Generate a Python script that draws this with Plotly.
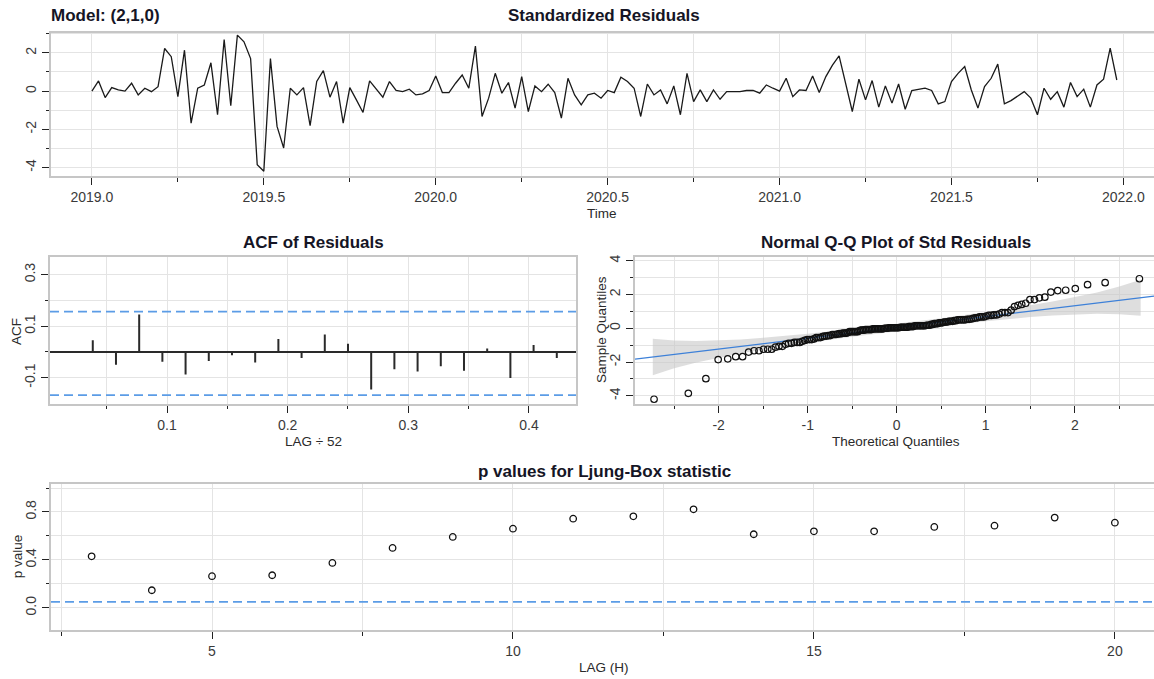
import plotly.graph_objects as go
from statistics import NormalDist

W, H = 1154, 679

# ---------------- data ----------------
model_label = "Model: (2,1,0)"
res_start = 2019.0
res_freq = 52
std_resid = [
    0.0, 0.53, -0.34, 0.18, 0.06, 0.0, 0.41, -0.2, 0.15, -0.03,
    0.23, 2.23, 1.8, -0.29, 2.14, -1.68, 0.15, 0.32, 1.48, -1.24,
    2.7, -0.77, 2.93, 2.58, 1.7, -3.85, -4.2, 1.7, -1.85, -2.98,
    0.15, -0.2, 0.18, -1.81, 0.5, 1.07, -0.32, 0.5, -1.68, 0.18,
    -0.46, -1.12, 0.53, 0.1, -0.32, 0.5, 0.03, -0.03, 0.1, -0.2,
    -0.15, 0.03, 0.79, -0.08, -0.08, 0.41, 0.84, 0.15, 2.35, -1.33,
    -0.37, 0.93, -0.11, 0.45, -0.89, 0.76, -1.07, 0.27, -0.03, 0.36,
    -0.08, -1.41, 0.67, -0.2, -0.72, -0.2, -0.11, -0.37, 0.03, -0.08,
    0.72, 0.5, 0.15, -1.33, 0.37, -0.2, 0.06, -0.67, 0.27, -1.24,
    0.93, -0.55, 0.06, -0.55, 0.06, -0.43, -0.03, -0.03, -0.03, 0.03,
    0.03, -0.11, 0.32, 0.15, 0.0, 0.67, -0.29, 0.06, 0.03, 0.79,
    -0.08, 0.76, 1.36, 1.84, 0.41, -1.07, 0.62, -0.46, 0.55, -0.84,
    0.27, -0.63, 0.37, -0.95, 0.03, 0.1, 0.15, 0.03, -0.67, -0.55,
    0.5, 0.93, 1.28, 0.06, -0.89, 0.23, 0.67, 1.41, -0.67, -0.5,
    -0.25, -0.03, -0.37, -1.24, 0.15, -0.43, -0.03, -0.84, 0.45, -0.29,
    0.1, -0.84, 0.32, 0.62, 2.25, 0.58,
]

acf_lags = list(range(1, 23))
acf_vals = [-0.004, 0.045, -0.05, 0.145, -0.038, -0.088, -0.035, -0.013, -0.041, 0.05,
            -0.024, 0.068, 0.032, -0.146, -0.067, -0.076, -0.056, -0.073, 0.013, -0.101,
            0.027, -0.024]
acf_upper = 0.157
acf_lower = -0.168

qq_slope = 0.64
qq_intercept = 0.05
qq_band_z = [-2.74, -2.5, -2.25, -2.0, -1.75, -1.5, -1.25, -1.0, -0.5, 0.0,
             0.5, 1.0, 1.25, 1.5, 1.75, 2.0, 2.25, 2.5, 2.74]
qq_band_half = [1.08, 0.82, 0.63, 0.5, 0.41, 0.35, 0.3, 0.27, 0.23, 0.22,
                0.23, 0.27, 0.3, 0.35, 0.41, 0.5, 0.63, 0.82, 1.06]

lb_lags = list(range(3, 21))
lb_pvals = [0.43, 0.147, 0.264, 0.272, 0.375, 0.50, 0.592, 0.661, 0.744, 0.764,
            0.822, 0.614, 0.639, 0.639, 0.675, 0.686, 0.753, 0.711]
lb_alpha = 0.05

# ---------------- styling helpers ----------------
FONT = "Liberation Sans, Arial, sans-serif"
GRID = "#e4e4e4"
BOX = "#c6c6c6"
TICKC = "#222222"
DASHC = "#5b9ce6"


def px(x):
    return x / W


def py(y):
    return 1 - y / H


def axis(domain, rng, major, labels, minor_vals, mirror=True, angle=None):
    d = dict(
        domain=domain, range=rng, showline=True, linecolor=BOX, linewidth=2,
        mirror=mirror, ticks="outside", tickcolor=TICKC, ticklen=7, tickwidth=1.3,
        tickmode="array", tickvals=major, ticktext=labels,
        showgrid=True, gridcolor=GRID, gridwidth=1, zeroline=False,
        tickfont=dict(family=FONT, size=14, color="#3a3a3a"),
        minor=dict(tickmode="array", tickvals=minor_vals, ticks="outside", ticklen=3.5,
                   tickcolor=TICKC, tickwidth=1.3, showgrid=True, gridcolor=GRID, gridwidth=1),
        fixedrange=True,
    )
    if angle is not None:
        d["tickangle"] = angle
    return d


def lab(v, fmt):
    return (fmt % v).replace("\u2212", "-")


fig = go.Figure()

# ---- top: standardized residuals ----
n = len(std_resid)
times = [res_start + i / res_freq for i in range(n)]
fig.add_trace(go.Scatter(x=times, y=std_resid, mode="lines",
                         line=dict(color="#1a1a1a", width=1.3),
                         xaxis="x", yaxis="y", showlegend=False, hoverinfo="skip"))

# ---- ACF ----
ax_, ay_ = [], []
for l, v in zip(acf_lags, acf_vals):
    ax_ += [l / res_freq, l / res_freq, None]
    ay_ += [0, v, None]
fig.add_trace(go.Scatter(x=ax_, y=ay_, mode="lines", line=dict(color="#2a2a2a", width=2),
                         xaxis="x2", yaxis="y2", showlegend=False, hoverinfo="skip"))

# ---- QQ ----
theo = [NormalDist().inv_cdf((i + 0.5) / n) for i in range(n)]
samp = sorted(std_resid)
band_up = [qq_intercept + qq_slope * z + h for z, h in zip(qq_band_z, qq_band_half)]
band_lo = [qq_intercept + qq_slope * z - h for z, h in zip(qq_band_z, qq_band_half)]
fig.add_trace(go.Scatter(x=qq_band_z + qq_band_z[::-1], y=band_up + band_lo[::-1],
                         fill="toself", fillcolor="rgba(200,200,200,0.6)", line=dict(width=0),
                         mode="lines", xaxis="x3", yaxis="y3", showlegend=False, hoverinfo="skip"))
qq_xr = [-2.94, 2.89]
fig.add_trace(go.Scatter(x=qq_xr, y=[qq_intercept + qq_slope * v for v in qq_xr], mode="lines",
                         line=dict(color="#3d80d8", width=1.3),
                         xaxis="x3", yaxis="y3", showlegend=False, hoverinfo="skip"))
fig.add_trace(go.Scatter(x=theo, y=samp, mode="markers",
                         marker=dict(symbol="circle-open", size=6.5, color="#111111",
                                     line=dict(width=1.2, color="#111111")),
                         xaxis="x3", yaxis="y3", showlegend=False, hoverinfo="skip"))

# ---- Ljung-Box ----
fig.add_trace(go.Scatter(x=lb_lags, y=lb_pvals, mode="markers",
                         marker=dict(symbol="circle-open", size=6.5, color="#111111",
                                     line=dict(width=1.3, color="#111111")),
                         xaxis="x4", yaxis="y4", showlegend=False, hoverinfo="skip"))

# dashed reference lines
dash = "9px,5px"
shapes = [
    dict(type="line", xref="x2 domain", yref="y2", x0=0, x1=1, y0=acf_upper, y1=acf_upper,
         line=dict(color=DASHC, width=1.8, dash=dash)),
    dict(type="line", xref="x2 domain", yref="y2", x0=0, x1=1, y0=acf_lower, y1=acf_lower,
         line=dict(color=DASHC, width=1.8, dash=dash)),
    dict(type="line", xref="x4 domain", yref="y4", x0=0, x1=1, y0=lb_alpha, y1=lb_alpha,
         line=dict(color=DASHC, width=1.8, dash=dash)),
]

# ---------------- axes ----------------
top_dom_y = [py(175), py(30.7)]
mid_dom_y = [py(403), py(255.7)]
bot_dom_y = [py(630), py(483)]

x1_major = [2019.0, 2019.5, 2020.0, 2020.5, 2021.0, 2021.5, 2022.0]
x1_minor = [2019.25, 2019.75, 2020.25, 2020.75, 2021.25, 2021.75]
y1_major = [-4, -2, 0, 2]
y1_minor = [-3, -1, 1, 3]

x2_major = [0.1, 0.2, 0.3, 0.4]
x2_minor = [0.05, 0.15, 0.25, 0.35]
y2_major = [-0.1, 0.1, 0.3]
y2_minor = [0.0, 0.2]

x3_major = [-2, -1, 0, 1, 2]
x3_minor = [-2.5, -1.5, -0.5, 0.5, 1.5, 2.5]
y3_major = [-4, -2, 0, 2, 4]
y3_minor = [-3, -1, 1, 3]

x4_major = [5, 10, 15, 20]
x4_minor = [2.5, 7.5, 12.5, 17.5]
y4_major = [0.0, 0.4, 0.8]
y4_minor = [0.2, 0.6, 1.0]

layout_axes = dict(
    xaxis=axis([px(51), 1], [2018.881, 2022.089], x1_major, [lab(v, "%.1f") for v in x1_major], x1_minor),
    yaxis=axis(top_dom_y, [-4.47, 3.06], y1_major, [lab(v, "%d") for v in y1_major], y1_minor,
               mirror=False, angle=-90),
    xaxis2=axis([px(50), px(576)], [0.003, 0.439], x2_major, [lab(v, "%.1f") for v in x2_major], x2_minor),
    yaxis2=axis(mid_dom_y, [-0.2015, 0.369], y2_major, [lab(v, "%.1f") for v in y2_major], y2_minor,
                angle=-90),
    xaxis3=axis([px(635), 1], qq_xr, x3_major, [lab(v, "%d") for v in x3_major], x3_minor),
    yaxis3=axis(mid_dom_y, [-4.47, 4.22], y3_major, [lab(v, "%d") for v in y3_major], y3_minor,
                mirror=False, angle=-90),
    xaxis4=axis([px(51), 1], [2.325, 20.65], x4_major, [lab(v, "%d") for v in x4_major], x4_minor),
    yaxis4=axis(bot_dom_y, [-0.186, 1.037], y4_major, [lab(v, "%.1f") for v in y4_major], y4_minor,
                mirror=False, angle=-90),
)
for k in ["xaxis", "xaxis2", "xaxis3", "xaxis4"]:
    layout_axes[k]["anchor"] = "y" + k[5:]
for k in ["yaxis", "yaxis2", "yaxis3", "yaxis4"]:
    layout_axes[k]["anchor"] = "x" + k[5:]
layout_axes["yaxis2"]["zeroline"] = True
layout_axes["yaxis2"]["zerolinecolor"] = "#2a2a2a"
layout_axes["yaxis2"]["zerolinewidth"] = 1.5

# ---------------- annotations ----------------
TITLE_FONT = dict(family=FONT, size=17, color="#151525")
AX_FONT = dict(family=FONT, size=13.5, color="#2a2a2a")


def ann(text, x, y, font, xanchor="center", angle=0, bold=False):
    return dict(text=("<b>%s</b>" % text) if bold else text, x=px(x), y=py(y),
                xref="paper", yref="paper", xanchor=xanchor, yanchor="middle",
                showarrow=False, font=font, textangle=angle)


annotations = [
    ann(model_label, 49, 14, TITLE_FONT, xanchor="left", bold=True),
    ann("Standardized Residuals", 604, 14, TITLE_FONT, bold=True),
    ann("Time", 602, 212, AX_FONT),
    ann("ACF of Residuals", 313, 241, TITLE_FONT, bold=True),
    ann("Normal Q-Q Plot of Std Residuals", 896, 241, TITLE_FONT, bold=True),
    ann("LAG \u00f7 52", 313, 441, AX_FONT),
    ann("Theoretical Quantiles", 896, 441, AX_FONT),
    ann("ACF", 16, 331, AX_FONT, angle=-90),
    ann("Sample Quantiles", 601, 329, AX_FONT, angle=-90),
    ann("p values for Ljung-Box statistic", 604, 471, TITLE_FONT, bold=True),
    ann("LAG (H)", 604, 667, AX_FONT),
    ann("p value", 17, 556, AX_FONT, angle=-90),
]

fig.update_layout(
    width=W, height=H, margin=dict(l=0, r=0, t=0, b=0),
    paper_bgcolor="white", plot_bgcolor="white",
    font=dict(family=FONT), showlegend=False,
    shapes=shapes, annotations=annotations,
    **layout_axes,
)

fig.write_html("out.html")
